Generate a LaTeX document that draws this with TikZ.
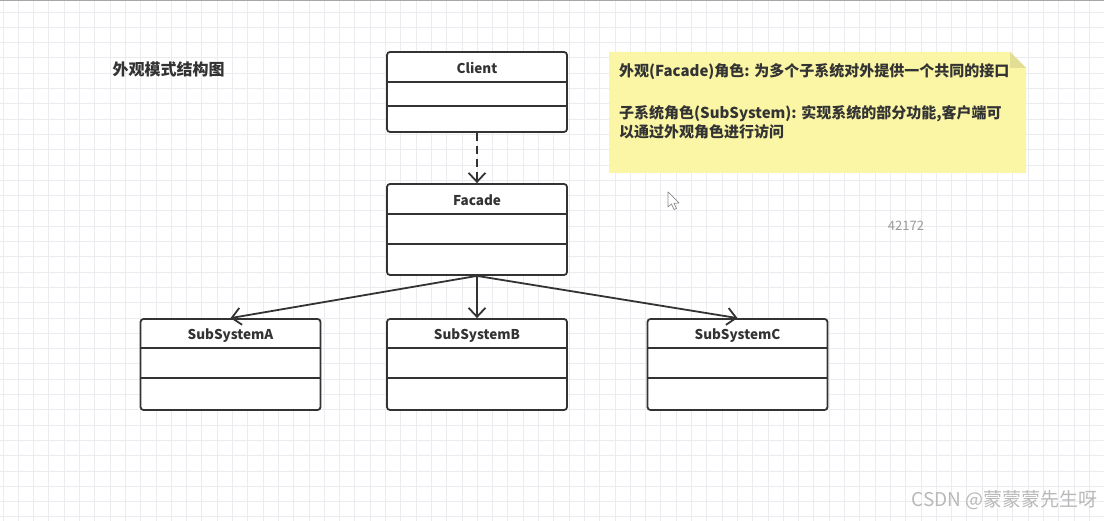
\documentclass[tikz,border=0pt]{standalone}
\usepackage{fontspec}
\setmainfont{Noto Sans CJK SC}
\usepackage{xcolor}
\usetikzlibrary{arrows.meta,calc}

\definecolor{gridline}{RGB}{236,236,240}
\definecolor{ink}{RGB}{51,51,51}
\definecolor{notefill}{RGB}{250,246,166}
\definecolor{notefold}{RGB}{226,222,150}

\begin{document}
\begin{tikzpicture}[x=1pt,y=-1pt,
	classbox/.style={draw=ink,line width=1.8pt,rounded corners=3pt,fill=white,
		minimum width=180pt,inner sep=0pt},
	classname/.style={text=ink,font=\fontsize{13.5}{16}\selectfont\bfseries},
	divider/.style={draw=ink,line width=1.8pt},
	link/.style={draw=ink,line width=1.8pt,-{Straight Barb[length=9pt,width=17pt,line width=1.8pt]}}]
\useasboundingbox (0,0) rectangle (1104,521);
% background grid
	\fill[white] (0,0) rectangle (1104,521);
	\foreach \i in {0,...,72}
		\draw[gridline,line width=0.9pt] (3+\i*15.3,0) -- (3+\i*15.3,521);
	\foreach \j in {0,...,34}
		\draw[gridline,line width=0.9pt] (0,12+\j*15.3) -- (1104,12+\j*15.3);
	\draw[gray!70,line width=1.2pt] (0,0.6) -- (1104,0.6);
% title
	\node[text=ink,anchor=west,font=\fontsize{16}{18}\selectfont\bfseries] (title) at (109,69) {外观模式结构图};
% Client
	\node[classbox,minimum height=80pt] (client) at (477,92) {};
	\node[classname] (clientname) at ($(client.north)+(0,17)$) {Client};
	\draw[divider] ($(client.north west)+(0,31)$) -- ($(client.north east)+(0,31)$);
	\draw[divider] ($(client.north west)+(0,55)$) -- ($(client.north east)+(0,55)$);
% Facade
	\node[classbox,minimum height=91pt] (facade) at (477,229.5) {};
	\node[classname] (facadename) at ($(facade.north)+(0,17)$) {Facade};
	\draw[divider] ($(facade.north west)+(0,31)$) -- ($(facade.north east)+(0,31)$);
	\draw[divider] ($(facade.north west)+(0,61)$) -- ($(facade.north east)+(0,61)$);
% SubSystemA
	\node[classbox,minimum height=91pt] (subA) at (230.5,364.5) {};
	\node[classname] (subAname) at ($(subA.north)+(0,17)$) {SubSystemA};
	\draw[divider] ($(subA.north west)+(0,30)$) -- ($(subA.north east)+(0,30)$);
	\draw[divider] ($(subA.north west)+(0,60)$) -- ($(subA.north east)+(0,60)$);
% SubSystemB
	\node[classbox,minimum height=91pt] (subB) at (477,364.5) {};
	\node[classname] (subBname) at ($(subB.north)+(0,17)$) {SubSystemB};
	\draw[divider] ($(subB.north west)+(0,30)$) -- ($(subB.north east)+(0,30)$);
	\draw[divider] ($(subB.north west)+(0,60)$) -- ($(subB.north east)+(0,60)$);
% SubSystemC
	\node[classbox,minimum height=91pt] (subC) at (737.5,364.5) {};
	\node[classname] (subCname) at ($(subC.north)+(0,17)$) {SubSystemC};
	\draw[divider] ($(subC.north west)+(0,30)$) -- ($(subC.north east)+(0,30)$);
	\draw[divider] ($(subC.north west)+(0,60)$) -- ($(subC.north east)+(0,60)$);
% dependency Client -> Facade
	\draw[link,dash pattern=on 8pt off 5pt] (client.south) -- (facade.north);
% associations Facade -> subsystems
	\draw[link] (facade.south) -- (subA.north);
	\draw[link] (facade.south) -- (subB.north);
	\draw[link] (facade.south) -- (subC.north);
% note
	\fill[notefill] (609,52) -- (1010,52) -- (1026,68) -- (1026,173) -- (609,173) -- cycle;
	\fill[notefold] (1010,52) -- (1010,68) -- (1026,68) -- cycle;
	\node[text=ink,anchor=north west,align=left,inner sep=0pt,
		font=\fontsize{15}{19}\selectfont\bfseries] (note) at (619,63.5)
		{外观(Facade)角色: 为多个子系统对外提供一个共同的接口\\[22.5pt]
		 子系统角色(SubSystem): 实现系统的部分功能,客户端可\\
		 以通过外观角色进行访问};
% stray marks
	\node[text=gray!80,font=\fontsize{13}{15}\selectfont] (num) at (906,226) {42172};
	\draw[gray!90,line width=0.7pt,fill=white,line join=round]
		(668,192) -- (668,207) -- (671.5,204) -- (674,209.5) -- (676.5,208.5) -- (674,203.3) -- (679,203) -- cycle;
	\node[text=gray!55,anchor=east,font=\fontsize{19}{22}\selectfont] (mark) at (1101,500) {CSDN @蒙蒙蒙先生呀};
\end{tikzpicture}
\end{document}
